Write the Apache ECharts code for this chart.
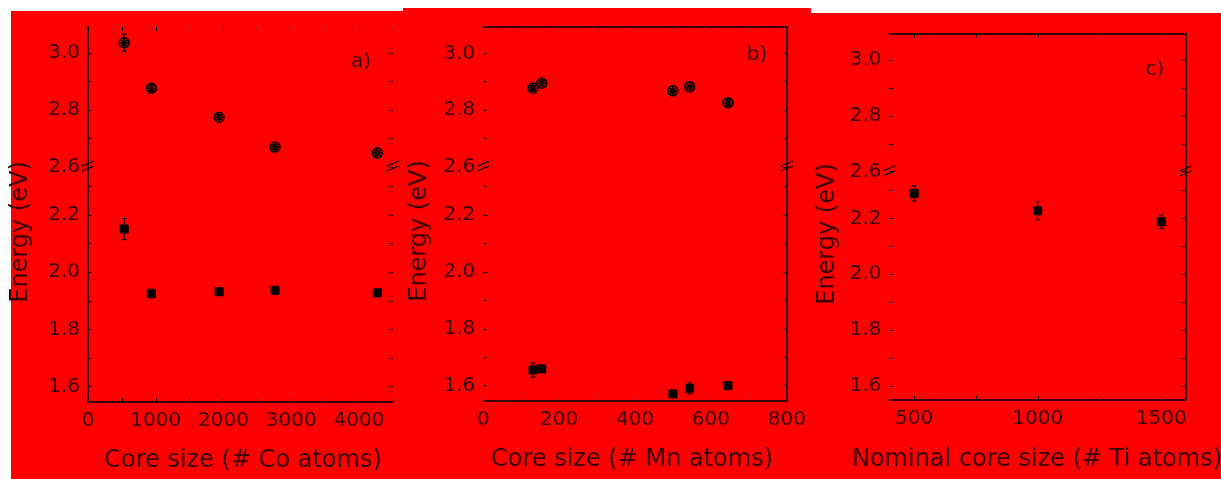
<!DOCTYPE html>
<html>
<head>
<meta charset="utf-8">
<script src="https://cdn.jsdelivr.net/npm/echarts@6/dist/echarts.min.js"></script>
<style>
  html, body { margin: 0; padding: 0; background: #ffffff; }
  #chart { width: 1221px; height: 479px; }
</style>
</head>
<body>
<div id="chart"></div>
<script>
// ---- data: cobalt cores ----
const coSizes = [535, 935, 1935, 2760, 4270];
const coHigh = [3.037, 2.877, 2.775, 2.670, 2.649];
const coHighErr = [0.030, 0.012, 0.008, 0.008, 0.008];
const coLow = [2.151, 1.926, 1.932, 1.937, 1.928];
const coLowErr = [0.037, 0.015, 0.008, 0.012, 0.008];

// ---- data: manganese cores ----
const mnSizes = [131, 154, 500, 544, 645];
const mnHigh = [2.878, 2.895, 2.868, 2.882, 2.826];
const mnHighErr = [0.010, 0.010, 0.015, 0.015, 0.010];
const mnLow = [1.655, 1.659, 1.571, 1.591, 1.600];
const mnLowErr = [0.025, 0.010, 0.010, 0.020, 0.008];

// ---- data: titanium cores (nominal size) ----
const tiSizes = [500, 1000, 1500];
const tiLow = [2.289, 2.227, 2.188];
const tiLowErr = [0.027, 0.032, 0.025];

// ---- tick values ----
const yLabelsHigh = [2.6, 2.8, 3.0];
const yTicksHigh = [2.6, 2.7, 2.8, 2.9, 3.0];
const yLabelsLow = [1.6, 1.8, 2.0, 2.2];
const yTicksLow = [1.6, 1.7, 1.8, 1.9, 2.0, 2.1, 2.2, 2.3];
const coXLabels = [0, 1000, 2000, 3000, 4000];
const coXTicks = [0, 500, 1000, 1500, 2000, 2500, 3000, 3500, 4000, 4500];
const mnXLabels = [0, 200, 400, 600, 800];
const mnXTicks = [0, 100, 200, 300, 400, 500, 600, 700, 800];
const tiXLabels = [500, 1000, 1500];
const tiXTicks = [500, 750, 1000, 1250, 1500];

const FONT = '"DejaVu Sans", "Liberation Sans", sans-serif';
const TEXT = '#3a0000';
const INK = '#000000';
const BG = '#ff0000';

// panel layout (pixels) and axis extents
const panels = [
  {
    left: 88, right: 392.9, top: 27, brk: 167, bottom: 402,
    xMin: 0, xMax: 4500, xLabels: coXLabels, xTicks: coXTicks,
    yTop: 3.0925, yBrk: 2.368, yMin: 1.5465,
    lines: { left: true, top: false, right: false, bottom: true },
    xTitle: 'Core size (# Co atoms)', xTitleX: 243, xTitleY: 461,
    yTitleX: 21, yTitleY: 232, tag: 'a)', tagX: 361, tagY: 62,
    high: { x: coSizes, y: coHigh, e: coHighErr },
    low: { x: coSizes, y: coLow, e: coLowErr },
    bg: [11, 11, 392, 468]
  },
  {
    left: 483.3, right: 786.8, top: 26.7, brk: 167, bottom: 401,
    xMin: 0, xMax: 800, xLabels: mnXLabels, xTicks: mnXTicks,
    yTop: 3.0937, yBrk: 2.369, yMin: 1.546,
    lines: { left: false, top: true, right: true, bottom: true },
    xTitle: 'Core size (# Mn atoms)', xTitleX: 632, xTitleY: 460,
    yTitleX: 420, yTitleY: 231, tag: 'b)', tagX: 757, tagY: 55,
    high: { x: mnSizes, y: mnHigh, e: mnHighErr },
    low: { x: mnSizes, y: mnLow, e: mnLowErr },
    bg: [403, 8, 408, 471]
  },
  {
    left: 889.5, right: 1186, top: 33.3, brk: 171.7, bottom: 400,
    xMin: 400, xMax: 1600, xLabels: tiXLabels, xTicks: tiXTicks,
    yTop: 3.0957, yBrk: 2.3667, yMin: 1.55,
    lines: { left: false, top: true, right: true, bottom: true },
    xTitle: 'Nominal core size (# Ti atoms)', xTitleX: 1037, xTitleY: 460,
    yTitleX: 828, yTitleY: 234, tag: 'c)', tagX: 1155, tagY: 70,
    high: null,
    low: { x: tiSizes, y: tiLow, e: tiLowErr },
    bg: [811, 13, 410, 466]
  }
];

const circleCross = 'path://M20,10A10,10,0,1,1,0,10A10,10,0,1,1,20,10ZM3,3L17,17M17,3L3,17M10,0L10,20M0,10L20,10';

function yAxis(gridIndex, position, min, max, labels, ticks, showLine, showLabels) {
  return {
    type: 'value', gridIndex, position, min, max,
    axisLine: { show: showLine, onZero: false, lineStyle: { color: INK, width: 1.5 } },
    axisTick: { show: true, inside: true, length: 4, customValues: ticks, lineStyle: { color: INK, width: 1 } },
    axisLabel: {
      show: showLabels, customValues: labels, margin: 8,
      formatter: v => Number(v).toFixed(1),
      color: TEXT, fontSize: 20, fontFamily: FONT,
      showMinLabel: true, showMaxLabel: true
    },
    splitLine: { show: false }
  };
}

function xAxis(gridIndex, position, p, showLine, showLabels) {
  return {
    type: 'value', gridIndex, position, min: p.xMin, max: p.xMax,
    axisLine: { show: showLine, onZero: false, lineStyle: { color: INK, width: 1.5 } },
    axisTick: { show: true, inside: true, length: 4, customValues: p.xTicks, lineStyle: { color: INK, width: 1 } },
    axisLabel: {
      show: showLabels, customValues: p.xLabels, margin: 9,
      formatter: v => String(Math.round(v)),
      color: TEXT, fontSize: 20, fontFamily: FONT,
      showMinLabel: true, showMaxLabel: true
    },
    splitLine: { show: false }
  };
}

function errorBars(xIdx, yIdx, set) {
  return {
    type: 'custom', xAxisIndex: xIdx, yAxisIndex: yIdx, z: 3,
    data: set.x.map((x, i) => [x, set.y[i], set.e[i]]),
    encode: { x: 0, y: 1 },
    renderItem(params, api) {
      const x = api.value(0), y = api.value(1), e = api.value(2);
      const hi = api.coord([x, y + e]);
      const lo = api.coord([x, y - e]);
      const w = 2.5;
      const st = { stroke: INK, lineWidth: 1 };
      return {
        type: 'group',
        children: [
          { type: 'line', shape: { x1: hi[0], y1: hi[1], x2: lo[0], y2: lo[1] }, style: st },
          { type: 'line', shape: { x1: hi[0] - w, y1: hi[1], x2: hi[0] + w, y2: hi[1] }, style: st },
          { type: 'line', shape: { x1: lo[0] - w, y1: lo[1], x2: lo[0] + w, y2: lo[1] }, style: st }
        ]
      };
    }
  };
}

const grids = [], xAxes = [], yAxes = [], series = [], graphics = [];

panels.forEach((p, k) => {
  const gHigh = 2 * k, gLow = 2 * k + 1;
  const w = p.right - p.left;
  grids.push({ left: p.left, top: p.top, width: w, height: p.brk - p.top, outerBoundsMode: 'none' });
  grids.push({ left: p.left, top: p.brk, width: w, height: p.bottom - p.brk, outerBoundsMode: 'none' });

  xAxes.push(xAxis(gHigh, 'top', p, p.lines.top, false));
  xAxes.push(xAxis(gLow, 'bottom', p, p.lines.bottom, true));

  const yHL = yAxes.length;
  yAxes.push(yAxis(gHigh, 'left', 2.6, p.yTop, yLabelsHigh, yTicksHigh, p.lines.left, true));
  yAxes.push(yAxis(gHigh, 'right', 2.6, p.yTop, yLabelsHigh, yTicksHigh, p.lines.right, false));
  const yLL = yAxes.length;
  yAxes.push(yAxis(gLow, 'left', p.yMin, p.yBrk, yLabelsLow, yTicksLow, p.lines.left, true));
  yAxes.push(yAxis(gLow, 'right', p.yMin, p.yBrk, yLabelsLow, yTicksLow, p.lines.right, false));

  if (p.high) {
    series.push(errorBars(gHigh, yHL, p.high));
    series.push({
      type: 'scatter', xAxisIndex: gHigh, yAxisIndex: yHL, z: 4,
      symbol: circleCross, symbolSize: 10,
      itemStyle: { color: 'rgba(0,0,0,0)', borderColor: INK, borderWidth: 1.5, opacity: 1 },
      data: p.high.x.map((x, i) => [x, p.high.y[i]])
    });
  }
  series.push(errorBars(gLow, yLL, p.low));
  series.push({
    type: 'scatter', xAxisIndex: gLow, yAxisIndex: yLL, z: 4,
    symbol: 'rect', symbolSize: 8,
    itemStyle: { color: '#050000', borderColor: INK, borderWidth: 1, opacity: 1 },
    data: p.low.x.map((x, i) => [x, p.low.y[i]])
  });

  // panel background
  graphics.push({
    type: 'rect', z: -10, silent: true,
    shape: { x: p.bg[0], y: p.bg[1], width: p.bg[2], height: p.bg[3] },
    style: { fill: BG }
  });
  // axis titles and panel tag
  graphics.push({
    type: 'text', x: p.xTitleX, y: p.xTitleY, z: 5,
    style: { text: p.xTitle, font: '24px ' + FONT, fill: TEXT, align: 'center', verticalAlign: 'middle' }
  });
  graphics.push({
    type: 'text', x: p.yTitleX, y: p.yTitleY, rotation: Math.PI / 2, z: 5,
    style: { text: 'Energy (eV)', font: '24px ' + FONT, fill: TEXT, align: 'center', verticalAlign: 'middle' }
  });
  graphics.push({
    type: 'text', x: p.tagX, y: p.tagY, z: 5,
    style: { text: p.tag, font: '20px ' + FONT, fill: TEXT, align: 'center', verticalAlign: 'middle' }
  });
  // break marks on both vertical axes
  [p.left, p.right].forEach(ax => {
    [0, 5].forEach(dy => {
      graphics.push({
        type: 'line', z: 5, silent: true,
        shape: { x1: ax - 6, y1: p.brk - 1 + dy, x2: ax + 6, y2: p.brk - 6 + dy },
        style: { stroke: INK, lineWidth: 1.2 }
      });
    });
  });
});

const chart = echarts.init(document.getElementById('chart'), null, { renderer: 'canvas' });
chart.setOption({
  animation: false,
  backgroundColor: '#ffffff',
  grid: grids,
  xAxis: xAxes,
  yAxis: yAxes,
  series: series,
  graphic: graphics
});
</script>
</body>
</html>
